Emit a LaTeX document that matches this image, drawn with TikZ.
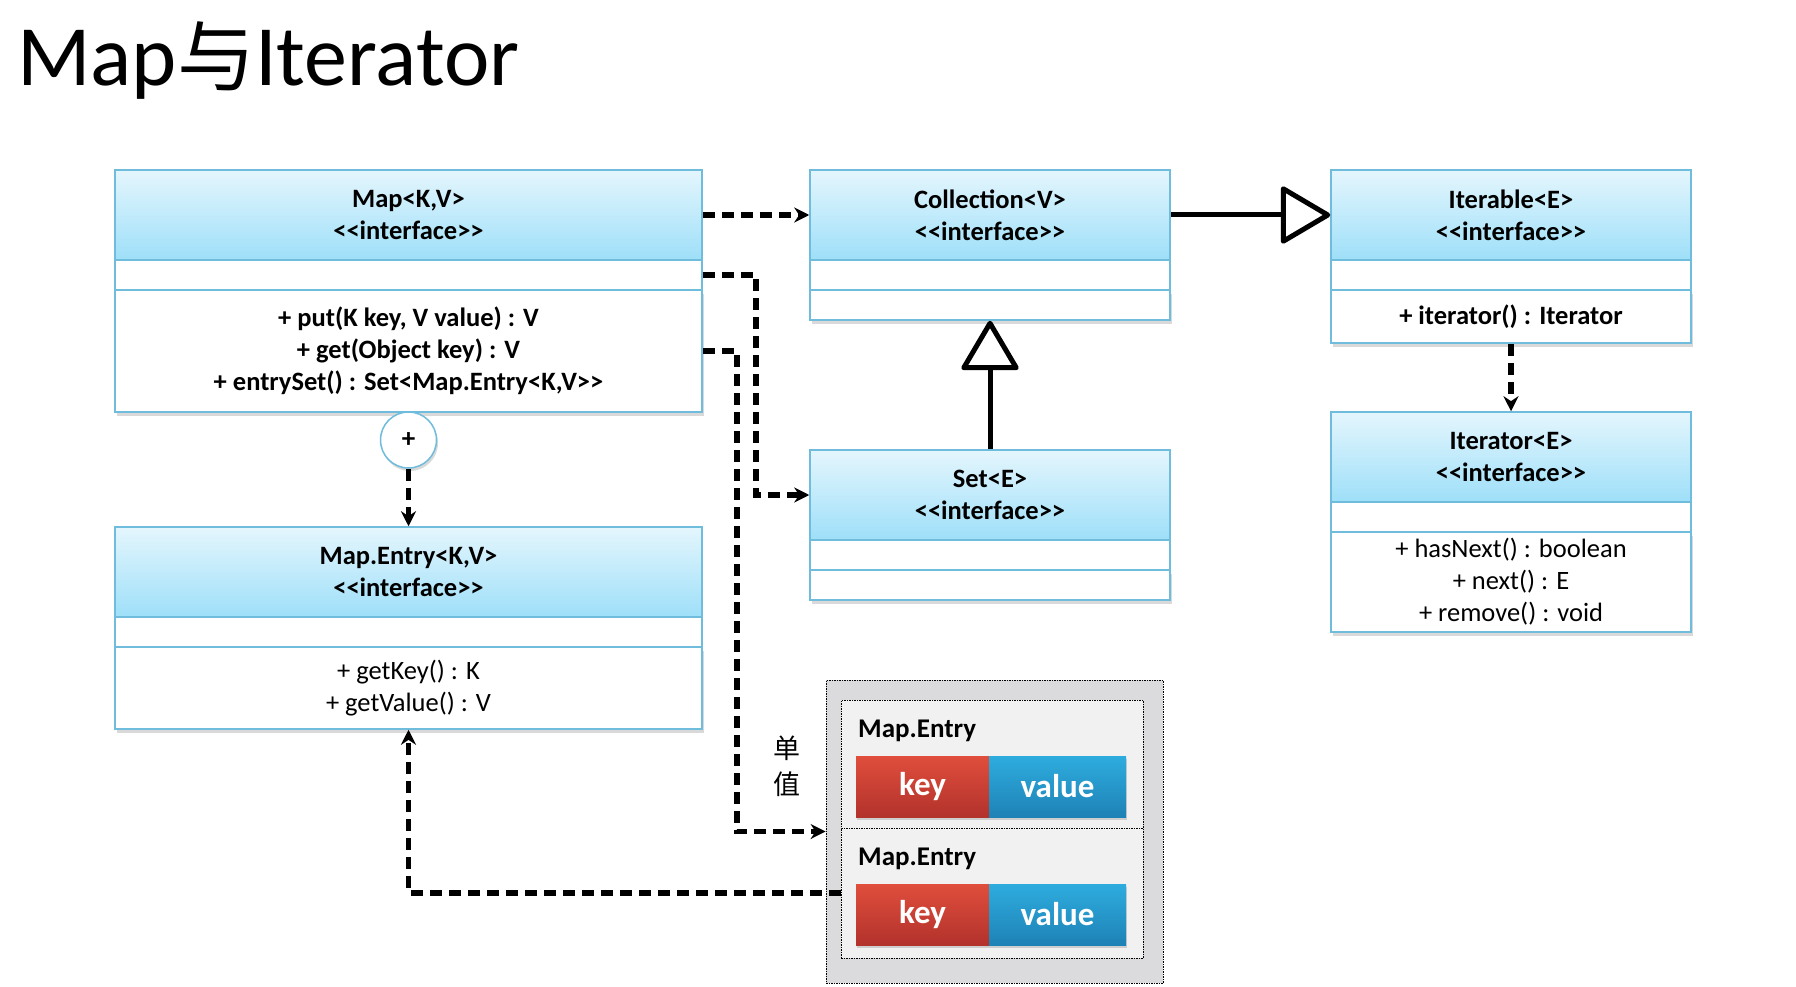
\documentclass[tikz,border=0pt]{standalone}
\usepackage{fontspec}
\setmainfont{Carlito}
\newfontfamily\cjk{Noto Sans CJK SC}
\usepackage{tikz}
\usetikzlibrary{shapes,arrows.meta,positioning,calc,shadows}
\newcommand\dlt{<\kern0pt<}
\newcommand\dgt{>\kern0pt>}
\definecolor{umlline}{RGB}{112,188,220}
\definecolor{headtop}{RGB}{228,246,253}
\definecolor{headbot}{RGB}{158,223,249}
\definecolor{keytop}{RGB}{224,78,60}
\definecolor{keybot}{RGB}{178,50,44}
\definecolor{valtop}{RGB}{46,172,222}
\definecolor{valbot}{RGB}{30,130,182}
\definecolor{outergray}{RGB}{219,219,221}
\definecolor{innergray}{RGB}{241,241,242}
\tikzstyle{head} = [rectangle, draw=umlline, line width=1.5pt, top color=headtop, bottom color=headbot, minimum height=90pt, inner sep=0pt, align=center, font=\fontsize{26.5}{32}\selectfont\bfseries]
\tikzstyle{attr} = [rectangle, draw=umlline, line width=1.5pt, fill=white, minimum height=30pt, inner sep=0pt]
\tikzstyle{meth} = [rectangle, draw=umlline, line width=1.5pt, fill=white, inner sep=0pt, align=center, font=\fontsize{26.5}{32}\selectfont, drop shadow={shadow xshift=1.5pt, shadow yshift=-4pt, opacity=0.3}]
\tikzstyle{dep} = [line width=5.5pt, dash pattern=on 12pt off 7pt, -{Stealth[length=15pt,width=15pt]}]
\tikzstyle{gen} = [line width=5pt, -{Triangle[fill=white, round, length=52pt, width=60pt]}]
\tikzstyle{entrybox} = [rectangle, fill=innergray, draw, line width=0.8pt, dash pattern=on 1.5pt off 1pt, minimum width=302pt, inner sep=0pt]
\tikzstyle{keybar} = [rectangle, top color=keytop, bottom color=keybot, text=white, minimum width=133pt, minimum height=61pt, font=\fontsize{33}{33}\selectfont\bfseries, drop shadow={shadow xshift=1pt, shadow yshift=-3pt, opacity=0.3}]
\tikzstyle{valbar} = [rectangle, top color=valtop, bottom color=valbot, text=white, minimum width=137pt, minimum height=61pt, font=\fontsize{33}{33}\selectfont\bfseries, drop shadow={shadow xshift=1pt, shadow yshift=-3pt, opacity=0.3}]
\tikzstyle{entrylabel} = [anchor=base west, inner sep=0pt, font=\fontsize{27}{30}\selectfont\bfseries]

\begin{document}
\begin{tikzpicture}[x=1pt, y=-1pt]
    \useasboundingbox (0,0) rectangle (1796,987);
    \node[anchor=base west, inner sep=0pt, font=\fontsize{86}{86}\selectfont] (title) at (17,86) {Map{\cjk\fontsize{78}{78}\selectfont 与}Iterator};
    \node[head, minimum width=587pt] (maph) at (408.5,215) {Map<K,V>\\\dlt interface\dgt};
    \node[attr, minimum width=587pt] (mapa) at (408.5,275) {};
    \node[meth, minimum width=587pt, minimum height=122pt, font=\fontsize{26.5}{32}\selectfont\bfseries] (mapm) at (408.5,351) {+ put(K key, V value) : V\\+ get(Object key) : V\\+ entrySet() : Set<Map.Entry<K,V\dgt};
    \node[head, minimum width=360pt] (colh) at (990,215) {Collection<V>\\\dlt interface\dgt};
    \node[attr, minimum width=360pt] (cola) at (990,275) {};
    \node[meth, minimum width=360pt, minimum height=30pt] (colm) at (990,305) {};
    \node[head, minimum width=360pt] (seth) at (990,495) {Set<E>\\\dlt interface\dgt};
    \node[attr, minimum width=360pt] (seta) at (990,555) {};
    \node[meth, minimum width=360pt, minimum height=30pt] (setm) at (990,585) {};
    \node[head, minimum width=360pt] (itbh) at (1511,215) {Iterable<E>\\\dlt interface\dgt};
    \node[attr, minimum width=360pt] (itba) at (1511,275) {};
    \node[meth, minimum width=360pt, minimum height=53pt, font=\fontsize{26.5}{32}\selectfont\bfseries] (itbm) at (1511,316.5) {+ iterator() : Iterator};
    \node[head, minimum width=360pt] (itrh) at (1511,457) {Iterator<E>\\\dlt interface\dgt};
    \node[attr, minimum width=360pt] (itra) at (1511,517) {};
    \node[meth, minimum width=360pt, minimum height=100pt] (itrm) at (1511,582) {+ hasNext() : boolean\\+ next() : E\\+ remove() : void};
    \node[head, minimum width=587pt] (enth) at (408.5,572) {Map.Entry<K,V>\\\dlt interface\dgt};
    \node[attr, minimum width=587pt] (enta) at (408.5,632) {};
    \node[meth, minimum width=587pt, minimum height=82pt] (entm) at (408.5,688) {+ getKey() : K\\+ getValue() : V};
    \node[circle, draw=umlline, line width=1.5pt, fill=white, minimum size=56pt, inner sep=0pt, font=\fontsize{27}{27}\selectfont\bfseries, drop shadow={shadow xshift=1.5pt, shadow yshift=-3pt, opacity=0.3}] (plus) at (408.5,440) {+};
    \node[rectangle, fill=outergray, draw, line width=0.8pt, dash pattern=on 1.5pt off 1pt, minimum width=337pt, minimum height=303pt] (table) at (994.5,831.5) {};
    \node[entrybox, minimum height=128pt] (entry1) at (992,764) {};
    \node[entrybox, minimum height=130pt] (entry2) at (992,893) {};
    \node[entrylabel] (lbl1) at (858,737) {Map.Entry};
    \node[entrylabel] (lbl2) at (858,865) {Map.Entry};
    \node[keybar] (key1) at (922.5,786.5) {key};
    \node[valbar] (val1) at (1057.5,786.5) {value};
    \node[keybar] (key2) at (922.5,914.5) {key};
    \node[valbar] (val2) at (1057.5,914.5) {value};
    \node[align=center, font=\cjk\fontsize{27}{36}\selectfont] (single) at (787,766) {单\\值};
    \draw[dep] (maph.east) -- (colh.west);
    \draw[dep] (mapa.east) -- ++(53,0) |- (seth.west);
    \draw[dep] (mapm.east) -- ++(34,0) |- (table.west);
    \draw[dep] (entry2.west) -| (entm.south);
    \draw[dep] (plus.south) -- (enth.north);
    \draw[dep] (itbm.south) -- (itrh.north);
    \draw[gen] (colh.east) -- (itbh.west);
    \draw[gen] (seth.north) -- (colm.south);
\end{tikzpicture}
\end{document}
